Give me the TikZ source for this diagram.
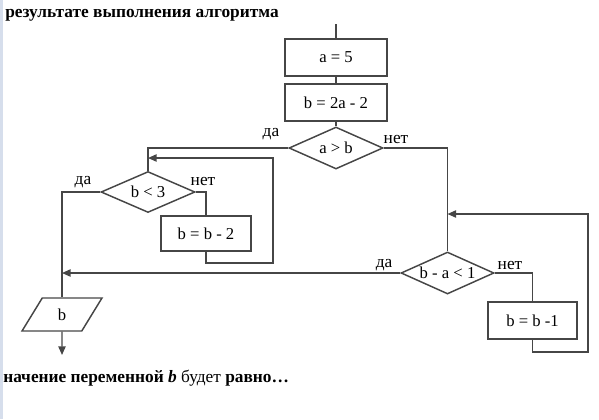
\documentclass[tikz,border=0pt]{standalone}
\usepackage{fontspec}
\setmainfont{Liberation Serif}
\usetikzlibrary{shapes.geometric,arrows.meta}
\definecolor{linegray}{RGB}{70,70,70}
\definecolor{edgeblue}{RGB}{214,222,236}
\begin{document}
\begin{tikzpicture}[x=0.75pt, y=-0.75pt,
    line/.style = {draw=linegray, line width=1.1pt},
    arr/.style = {line, -{Triangle[length=6.5pt,width=5.5pt]}},
    block/.style = {line, rectangle, minimum width=76.5pt, minimum height=27.75pt, inner sep=0pt, font=\fontsize{12.5}{14}\selectfont},
    cond/.style = {line, diamond, minimum width=70.5pt, minimum height=31.5pt, inner sep=0pt, font=\fontsize{12.5}{14}\selectfont},
    io/.style = {line, trapezium, trapezium stretches=true, trapezium left angle=70, trapezium right angle=110, minimum width=60pt, minimum height=24.75pt, inner sep=0pt, font=\fontsize{12.5}{14}\selectfont},
    lbl/.style = {inner sep=0pt, font=\fontsize{13}{15}\selectfont}]
\useasboundingbox (0,0) rectangle (599,419);
\fill[edgeblue] (0,0) rectangle (3,419);
\node (head) at (5,15) [anchor=west, inner sep=0pt, font=\fontsize{13}{15}\selectfont\bfseries] {результате выполнения алгоритма};
\node (tail) at (3,378) [anchor=west, inner sep=0pt, font=\fontsize{13}{15}\selectfont] {\textbf{начение переменной \textit{b}} будет \textbf{равно…}};
% main column
\coordinate (start) at (336,24);
\node (seta) at (336,57.5) [block] {a = 5};
\node (setb) at (336,102.5) [block] {b = 2a - 2};
\node (ab) at (336,148) [cond] {\makebox[0pt]{a > b}};
\node (bless) at (148,192) [cond, minimum height=30.75pt] {\makebox[0pt]{b < 3}};
\node (dectwo) at (206,233.5) [block, minimum width=67.5pt, minimum height=26.25pt] {b = b - 2};
\node (bminus) at (447.5,273) [cond, minimum width=69.75pt] {\makebox[0pt]{b - a < 1}};
\node (decone) at (532.5,320.5) [block, minimum width=66.75pt] {b = b -1};
\node (out) at (62,314.5) [io] {b};
\coordinate (stop) at (62,355);
% labels
\node (yes1) at (271,134) [lbl] {да};
\node (no1) at (396,139) [lbl] {нет};
\node (yes2) at (83,182) [lbl] {да};
\node (no2) at (203,181) [lbl] {нет};
\node (yes3) at (384,265) [lbl] {да};
\node (no3) at (510,265) [lbl] {нет};
% connectors
\draw[line] (start) -- (seta) -- (setb) -- (ab);
\draw[line] (ab.east) -| (bminus.north);
\draw[line] (ab.west) -| (bless.north);
\draw[line] (bless.east) -| (dectwo.north);
\draw[arr] (dectwo.south) |- (273,263) |- (bless.north |- 0,158);
\draw[line] (bless.west) -| (out.north);
\draw[arr] (bminus.west) -- (out.north |- bminus.west);
\draw[line] (bminus.east) -| (decone.north);
\draw[arr] (decone.south) |- (588,352) |- (bminus.north |- 0,214);
\draw[arr] (out.south) -- (stop);
\end{tikzpicture}
\end{document}
